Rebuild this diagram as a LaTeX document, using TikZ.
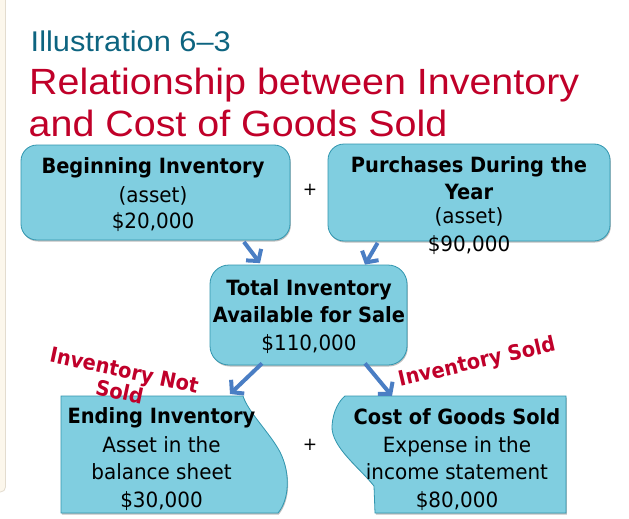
\documentclass[tikz,border=0pt]{standalone}
\usepackage{fontspec}
\usetikzlibrary{arrows.meta,shadows}
\newfontfamily\titlefont[FakeStretch=1.08]{Liberation Sans}
\newfontfamily\boxfont[FakeStretch=0.95]{DejaVu Sans}
\newfontfamily\boxbold[FakeStretch=0.925]{DejaVu Sans}
\definecolor{boxfill}{HTML}{80CEE0}
\definecolor{boxline}{HTML}{3196AF}
\definecolor{arrowblue}{HTML}{4A7EC4}
\definecolor{titleteal}{HTML}{0D6480}
\definecolor{titlered}{HTML}{C00029}
\definecolor{labred}{HTML}{C0002A}
\definecolor{cream}{HTML}{FCF7EC}
\definecolor{stripline}{HTML}{E3DCCF}
\begin{document}
\begin{tikzpicture}[x=1pt,y=-1pt,
  boxshade/.style={draw=boxline, fill=boxfill, line width=0.8pt,
    drop shadow={shadow xshift=0.8pt, shadow yshift=-1.5pt, opacity=0.25, fill=black}},
  roundbox/.style={boxshade, rounded corners=16pt, inner sep=0pt},
  txtb/.style={font=\boxbold\bfseries\fontsize{21}{25}\selectfont, inner sep=0pt, anchor=base},
  txtr/.style={font=\boxfont\fontsize{21}{25}\selectfont, inner sep=0pt, anchor=base},
  arr/.style={draw=arrowblue, line width=4pt, -{Straight Barb[length=8pt,width=19pt]}},
  redlab/.style={text=labred, font=\boxbold\bfseries\fontsize{21}{22}\selectfont, align=center, inner sep=0pt},
  plussign/.style={font=\boxfont\fontsize{18}{20}\selectfont, inner sep=0pt},
  ttl/.style={anchor=base west, inner sep=0pt}
]
\useasboundingbox (0,0) rectangle (629,519);
\fill[white] (0,0) rectangle (629,519);
% left strip
\draw[fill=cream, draw=stripline, line width=0.8pt, rounded corners=5pt] (-8,-8) rectangle (5.5,492);

% titles
\node[ttl, text=titleteal, font=\titlefont\fontsize{28.5}{30}\selectfont] (t1) at (30.5,52) {Illustration 6–3};
\node[ttl, text=titlered, font=\titlefont\fontsize{36.5}{38}\selectfont] (t2) at (29,94) {Relationship between Inventory};
\node[ttl, text=titlered, font=\titlefont\fontsize{36.5}{38}\selectfont] (t3) at (28.5,136) {and Cost of Goods Sold};

% top boxes
\node[roundbox, minimum width=269pt, minimum height=95pt] (bi) at (155.5,192.5) {};
\node[roundbox, minimum width=282pt, minimum height=97pt] (pu) at (469,192.5) {};
\node[roundbox, rounded corners=19pt, minimum width=197pt, minimum height=100pt] (tot) at (308.5,315) {};

% bottom boxes
\draw[boxshade] (61,396) -- (243,396)
  .. controls (248,412) and (270,433) .. (280,452)
  .. controls (291,474) and (289,500) .. (278,513) -- (61,513) -- cycle;
\draw[boxshade] (566,396) -- (566,513) -- (375,513) -- (374,486)
  .. controls (360,468) and (331,447) .. (332,426)
  .. controls (333,411) and (339,401) .. (345,396) -- cycle;
\coordinate (eitop) at (230,394);
\coordinate (cgtop) at (392,396);

% texts
\node[txtb] (b1) at (153,173) {Beginning Inventory};
\node[txtr] (b2) at (153,202) {(asset)};
\node[txtr] (b3) at (153,228) {\$20,000};

\node[txtb] (p1) at (469,172) {Purchases During the};
\node[txtb] (p2) at (469,199.5) {Year};
\node[txtr] (p3) at (469,223) {(asset)};
\node[txtr] (p4) at (469,251) {\$90,000};

\node[txtb] (a1) at (309,295) {Total Inventory};
\node[txtb] (a2) at (309,322) {Available for Sale};
\node[txtr] (a3) at (309,350) {\$110,000};

\node[txtb] (e1) at (161.5,423) {Ending Inventory};
\node[txtr] (e2) at (161.5,452) {Asset in the};
\node[txtr] (e3) at (161.5,479) {balance sheet};
\node[txtr] (e4) at (161.5,507) {\$30,000};

\node[txtb] (c1) at (457,424) {Cost of Goods Sold};
\node[txtr] (c2) at (457,452) {Expense in the};
\node[txtr] (c3) at (457,479) {income statement};
\node[txtr] (c4) at (457,507) {\$80,000};

\node[plussign] (plus1) at (310,190) {+};
\node[plussign] (plus2) at (310,445) {+};

% labels
\node[redlab, rotate=-12] (lnot) at (122,381) {Inventory Not\\Sold};
\node[redlab, rotate=13] (lsold) at (477,363) {Inventory Sold};

% arrows
\draw[arr] ([xshift=-46.5pt,yshift=-1.5pt]bi.south east) -- ([xshift=-48.5pt,yshift=1.5pt]tot.north);
\draw[arr] ([xshift=50pt,yshift=-1.5pt]pu.south west) -- ([xshift=56.5pt]tot.north);
\draw[arr] ([xshift=-46.5pt,yshift=2pt]tot.south) -- (eitop);
\draw[arr] ([xshift=56.5pt,yshift=2pt]tot.south) -- (cgtop);
\end{tikzpicture}
\end{document}
